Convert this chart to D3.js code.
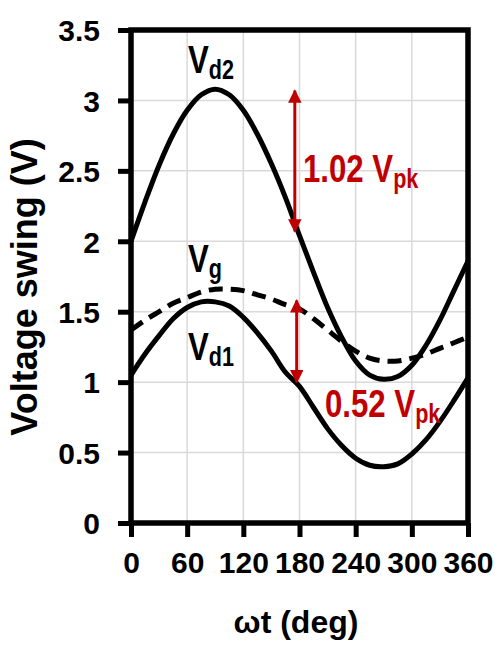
<!DOCTYPE html>
<html>
<head>
<meta charset="utf-8">
<script src="https://d3js.org/d3.v7.min.js"></script>
<style>
  body { margin: 0; background: #fff; }
  svg { display: block; }
  text { font-family: "Liberation Sans", Arial, sans-serif; font-weight: bold; }
</style>
</head>
<body>
<svg id="vis" width="498" height="645"></svg>
<script>
// phase angle (deg), sampled every 15 deg
const phase = [0, 15, 30, 45, 60, 75, 90, 105, 120, 135, 150, 165, 180,
               195, 210, 225, 240, 255, 270, 285, 300, 315, 330, 345, 360];

// drain 2 voltage (V)
const vd2 = [2.00, 2.28, 2.54, 2.76, 2.93, 3.04, 3.08, 3.04, 2.93, 2.76, 2.55, 2.31, 2.04,
             1.78, 1.53, 1.32, 1.15, 1.05, 1.02, 1.04, 1.12, 1.26, 1.44, 1.65, 1.86];

// gate voltage (V), dashed
const vg = [1.37, 1.44, 1.50, 1.56, 1.60, 1.64, 1.66, 1.66, 1.65, 1.62, 1.59, 1.55, 1.52,
            1.45, 1.37, 1.29, 1.22, 1.17, 1.15, 1.15, 1.17, 1.20, 1.24, 1.28, 1.32];

// drain 1 voltage (V)
const vd1 = [1.05, 1.20, 1.33, 1.45, 1.53, 1.57, 1.57, 1.54, 1.46, 1.35, 1.22, 1.07, 0.97,
             0.82, 0.67, 0.55, 0.46, 0.41, 0.40, 0.42, 0.49, 0.59, 0.72, 0.87, 1.03];

const xTicks = [0, 60, 120, 180, 240, 300, 360];
const yTicks = [0, 0.5, 1, 1.5, 2, 2.5, 3, 3.5];

// swing markers: [deg, from, to]
const swings = [[175, 3.07, 2.07], [177, 1.58, 1.00]];

const m = { left: 131, right: 468, top: 30, bottom: 523 };
const red = "#c00000";

const svg = d3.select("svg#vis");

const x = d3.scaleLinear().domain([0, 360]).range([m.left, m.right]);
const y = d3.scaleLinear().domain([0, 3.5]).range([m.bottom, m.top]);

// grid
const grid = svg.append("g").attr("class", "grid");
grid.selectAll("line.gx")
  .data(xTicks)
  .enter()
  .append("line")
  .attr("x1", d => x(d)).attr("x2", d => x(d))
  .attr("y1", m.top).attr("y2", m.bottom)
  .attr("stroke", "#d9d9d9").attr("stroke-width", 1.5);
grid.selectAll("line.gy")
  .data(yTicks)
  .enter()
  .append("line")
  .attr("x1", m.left).attr("x2", m.right)
  .attr("y1", d => y(d)).attr("y2", d => y(d))
  .attr("stroke", "#d9d9d9").attr("stroke-width", 1.5);

// axes
const yAxis = d3.axisLeft(y).tickValues(yTicks).tickSize(13).tickPadding(18)
  .tickFormat(d => String(d));
const xAxis = d3.axisBottom(x).tickValues(xTicks).tickSize(14).tickPadding(15)
  .tickFormat(d => String(d));

const gy = svg.append("g").attr("transform", translate(m.left, 0)).call(yAxis);
const gx = svg.append("g").attr("transform", translate(0, m.bottom)).call(xAxis);

[gx, gy].forEach(function(g) {
  g.select(".domain").remove();
  g.selectAll(".tick line").attr("stroke", "#000").attr("stroke-width", 5);
  g.selectAll(".tick text")
    .attr("fill", "#000")
    .style("font-size", "30px")
    .style("font-family", "'Liberation Sans', Arial, sans-serif")
    .style("font-weight", "bold");
});
gy.selectAll(".tick text").attr("dy", "0.36em");

// frame
svg.append("rect")
  .attr("x", m.left).attr("y", m.top)
  .attr("width", m.right - m.left).attr("height", m.bottom - m.top)
  .attr("fill", "none").attr("stroke", "#000").attr("stroke-width", 5.5);

// curves
const line = d3.line()
  .x((d, i) => x(phase[i]))
  .y(d => y(d))
  .curve(d3.curveCatmullRom);

svg.append("path").datum(vd2).attr("d", line)
  .attr("fill", "none").attr("stroke", "#000").attr("stroke-width", 5);
svg.append("path").datum(vd1).attr("d", line)
  .attr("fill", "none").attr("stroke", "#000").attr("stroke-width", 5);
svg.append("path").datum(vg).attr("d", line)
  .attr("fill", "none").attr("stroke", "#000").attr("stroke-width", 5)
  .attr("stroke-dasharray", "14,8");

// red swing arrows
const defs = svg.append("defs");
defs.append("marker")
  .attr("id", "arrow")
  .attr("viewBox", "0 0 10 10")
  .attr("refX", 9).attr("refY", 5)
  .attr("markerWidth", 4.5).attr("markerHeight", 4.5)
  .attr("markerUnits", "strokeWidth")
  .attr("orient", "auto-start-reverse")
  .append("path")
  .attr("d", "M0,0 L10,5 L0,10 Z")
  .attr("fill", red);

svg.selectAll("line.swing")
  .data(swings)
  .enter()
  .append("line")
  .attr("class", "swing")
  .attr("x1", d => x(d[0])).attr("x2", d => x(d[0]))
  .attr("y1", d => y(d[1])).attr("y2", d => y(d[2]))
  .attr("stroke", red).attr("stroke-width", 3)
  .attr("marker-start", "url(#arrow)")
  .attr("marker-end", "url(#arrow)");

// labels (condensed bold, like Arial Narrow)
function label(px, py, main, sub, color, size, subSize) {
  const t = svg.append("text")
    .attr("transform", translate(px, py) + " scale(0.8,1)")
    .attr("fill", color)
    .style("font-size", size + "px");
  t.append("tspan").text(main);
  t.append("tspan").attr("dy", 6).style("font-size", subSize + "px").text(sub);
}

label(188, 73, "V", "d2", "#000", 39, 27);
label(188, 272, "V", "g", "#000", 39, 27);
label(188, 360, "V", "d1", "#000", 39, 27);
label(303, 182, "1.02 V", "pk", red, 39, 27);
label(325, 417, "0.52 V", "pk", red, 39, 27);

// axis titles
svg.append("text")
  .attr("transform", translate(37, 287) + " rotate(-90)")
  .attr("text-anchor", "middle")
  .style("font-size", "36px")
  .text("Voltage swing (V)");

svg.append("text")
  .attr("x", 296).attr("y", 633)
  .attr("text-anchor", "middle")
  .style("font-size", "32px")
  .text("ωt (deg)");

function translate(a, b) {
  return "translate(" + String(a) + "," + String(b) + ")";
}
</script>
</body>
</html>
